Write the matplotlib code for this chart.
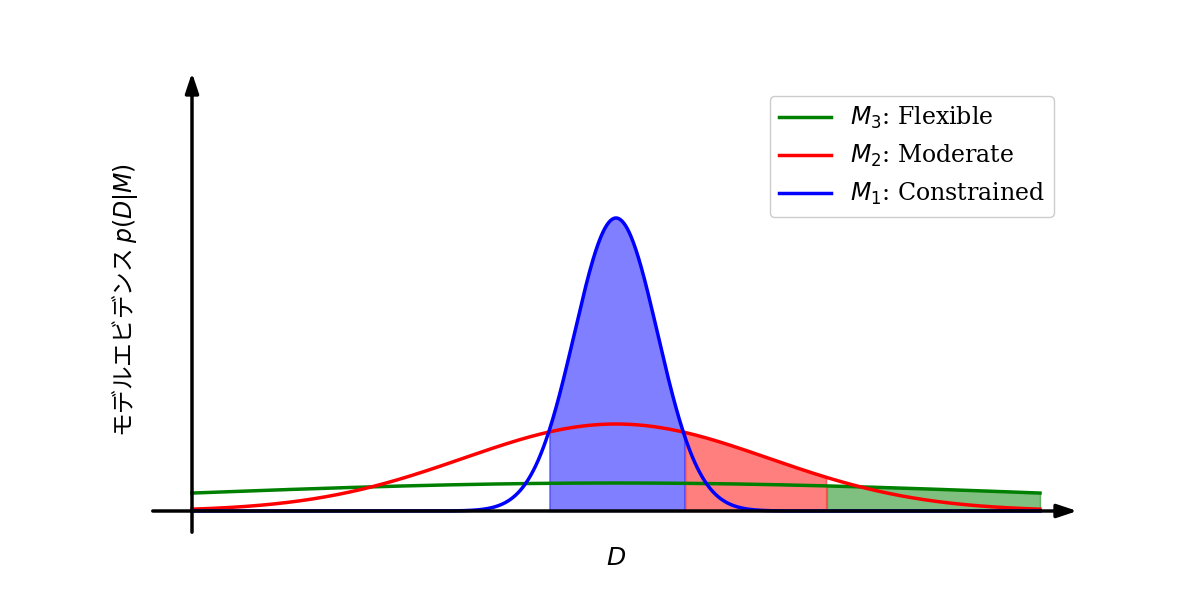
import numpy as np
import matplotlib.pyplot as plt

# model evidence curves: Gaussian bumps (x in 0..10, height in px-ish units)
labels = [r"$M_3$: Flexible", r"$M_2$: Moderate", r"$M_1$: Constrained"]
colors = ["green", "red", "blue"]
means = [5.0, 5.0, 5.0]
sigmas = [5.3, 1.8, 0.49]
heights = [28, 87, 293]
# shaded ranges under each curve
fill_ranges = [(7.48, 10.0), (5.81, 7.48), (4.21, 5.81)]

fig = plt.figure(figsize=(12, 6), dpi=100)
ax = fig.add_axes([0, 0, 1, 1])
ax.set_xlim(-192 / 84.8, (1200 - 192) / 84.8)
ax.set_ylim(-89, 511)
ax.axis("off")

x = np.linspace(0, 10, 1000)
lines = []
for lab, c, m, s, h, (a, b) in zip(labels, colors, means, sigmas, heights, fill_ranges):
    y = h * np.exp(-(x - m) ** 2 / (2 * s ** 2))
    ln, = ax.plot(x, y, color=c, lw=2.5, label=lab, zorder=3)
    lines.append(ln)
    mask = (x >= a) & (x <= b)
    ax.fill_between(x[mask], 0, y[mask], color=c, alpha=0.5, zorder=2)

arrow = dict(arrowstyle="-|>,head_length=1.2,head_width=0.4", color="black", lw=2.5)
ax.annotate("", xy=((1080 - 192) / 84.8, 0), xytext=((150 - 192) / 84.8, 0), arrowprops=arrow, zorder=4)
ax.annotate("", xy=(0, 441), xytext=(0, -24), arrowprops=arrow, zorder=4)

ax.text(5.0, -47, "$D$", ha="center", va="center", fontsize=18)
ax.text(-0.79, 211, "モデルエビデンス $p(D|M)$", rotation=90, ha="center", va="center",
        fontsize=17, family=["Noto Sans CJK JP", "DejaVu Sans"])

ax.legend(handles=lines, loc="upper right", bbox_to_anchor=(1066 / 1200, 1 - 84 / 600),
          prop={"family": "DejaVu Serif", "size": 17}, handlelength=2.2, framealpha=1)

fig.savefig("out.png")
